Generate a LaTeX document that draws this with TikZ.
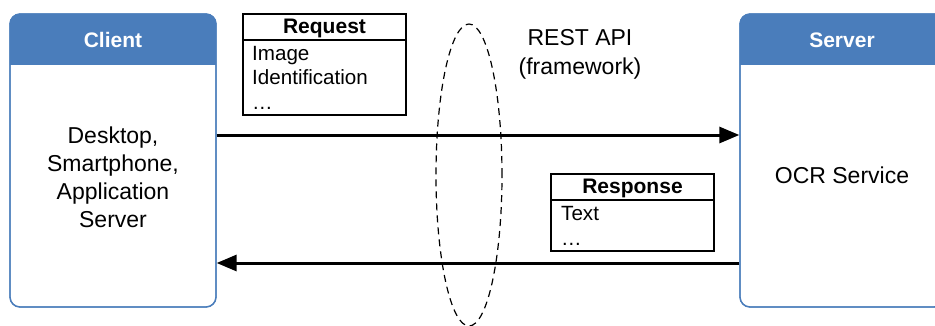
\documentclass[tikz,border=0pt]{standalone}
\usepackage{fontspec}
\setmainfont{Liberation Sans}
\usetikzlibrary{arrows.meta,shapes.geometric}
\definecolor{tierblue}{RGB}{74,125,187}
\tikzset{
  tier/.style={draw=tierblue, line width=1.3pt, rounded corners=10pt,
    minimum width=#1, minimum height=293pt, inner sep=0pt},
  tierhead/.style={font=\bfseries\fontsize{21}{25}\selectfont, text=white, anchor=base, inner sep=0pt},
  body/.style={font=\fontsize{23}{28}\selectfont, anchor=base, inner sep=0pt},
  msgbox/.style={draw, line width=1.2pt, minimum width=163pt, inner sep=0pt},
  msghead/.style={font=\bfseries\fontsize{21}{25}\selectfont, anchor=base, inner sep=0pt},
  msgline/.style={font=\fontsize{20.6}{24}\selectfont, anchor=base west, inner sep=0pt},
  flow/.style={line width=3pt, -{Triangle[length=20pt,width=16pt]}},
}
\begin{document}
\begin{tikzpicture}[x=1pt,y=-1pt]
\useasboundingbox (0,0) rectangle (935,325);
\clip (0,0) rectangle (935,325);

% client tier
\node[tier=206pt] (client) at (113,160.5) {};
\begin{scope}
  \clip[rounded corners=10pt] (10,14) rectangle (216,307);
  \fill[tierblue] (10,14) rectangle (216,65);
\end{scope}
\node[tier=206pt] at (113,160.5) {};
\node[tierhead] (clienthead) at (113,47) {Client};
\node[body] (c1) at (113,143) {Desktop,};
\node[body] (c2) at (113,171) {Smartphone,};
\node[body] (c3) at (113,199) {Application};
\node[body] (c4) at (113,227) {Server};

% server tier
\node[tier=204pt] (server) at (842,160.5) {};
\begin{scope}
  \clip[rounded corners=10pt] (740,14) rectangle (944,307);
  \fill[tierblue] (740,14) rectangle (944,65);
\end{scope}
\node[tier=204pt] at (842,160.5) {};
\node[tierhead] (serverhead) at (842,47) {Server};
\node[body] (ocr) at (842,183) {OCR Service};

% REST API boundary
\node[ellipse, draw, dashed, dash pattern=on 7pt off 5pt, line width=1.2pt,
  minimum width=66pt, minimum height=302pt, inner sep=0pt] (api) at (469,175) {};
\node[body] (rest1) at (580,45) {REST API};
\node[body] (rest2) at (580,74) {(framework)};

% request message
\node[msgbox, minimum height=101pt] (req) at (324.5,64.5) {};
\draw[line width=1.2pt] (req.west |- 0,40) -- (req.east |- 0,40);
\node[msghead] (reqhead) at (req.center |- 0,33) {Request};
\node[msgline] (r1) at (252,60) {Image};
\node[msgline] (r2) at (252,84.5) {Identification};
\node[msgline] (r3) at (252,109) {…};

% response message
\node[msgbox, minimum height=77pt] (resp) at (632.5,212.5) {};
\draw[line width=1.2pt] (resp.west |- 0,200) -- (resp.east |- 0,200);
\node[msghead] (resphead) at (resp.center |- 0,193) {Response};
\node[msgline] (s1) at (561,220) {Text};
\node[msgline] (s2) at (561,245) {…};

% calls
\draw[flow] (client.east |- 0,135) -- (server.west |- 0,135);
\draw[flow] (server.west |- 0,263) -- (client.east |- 0,263);
\end{tikzpicture}
\end{document}
